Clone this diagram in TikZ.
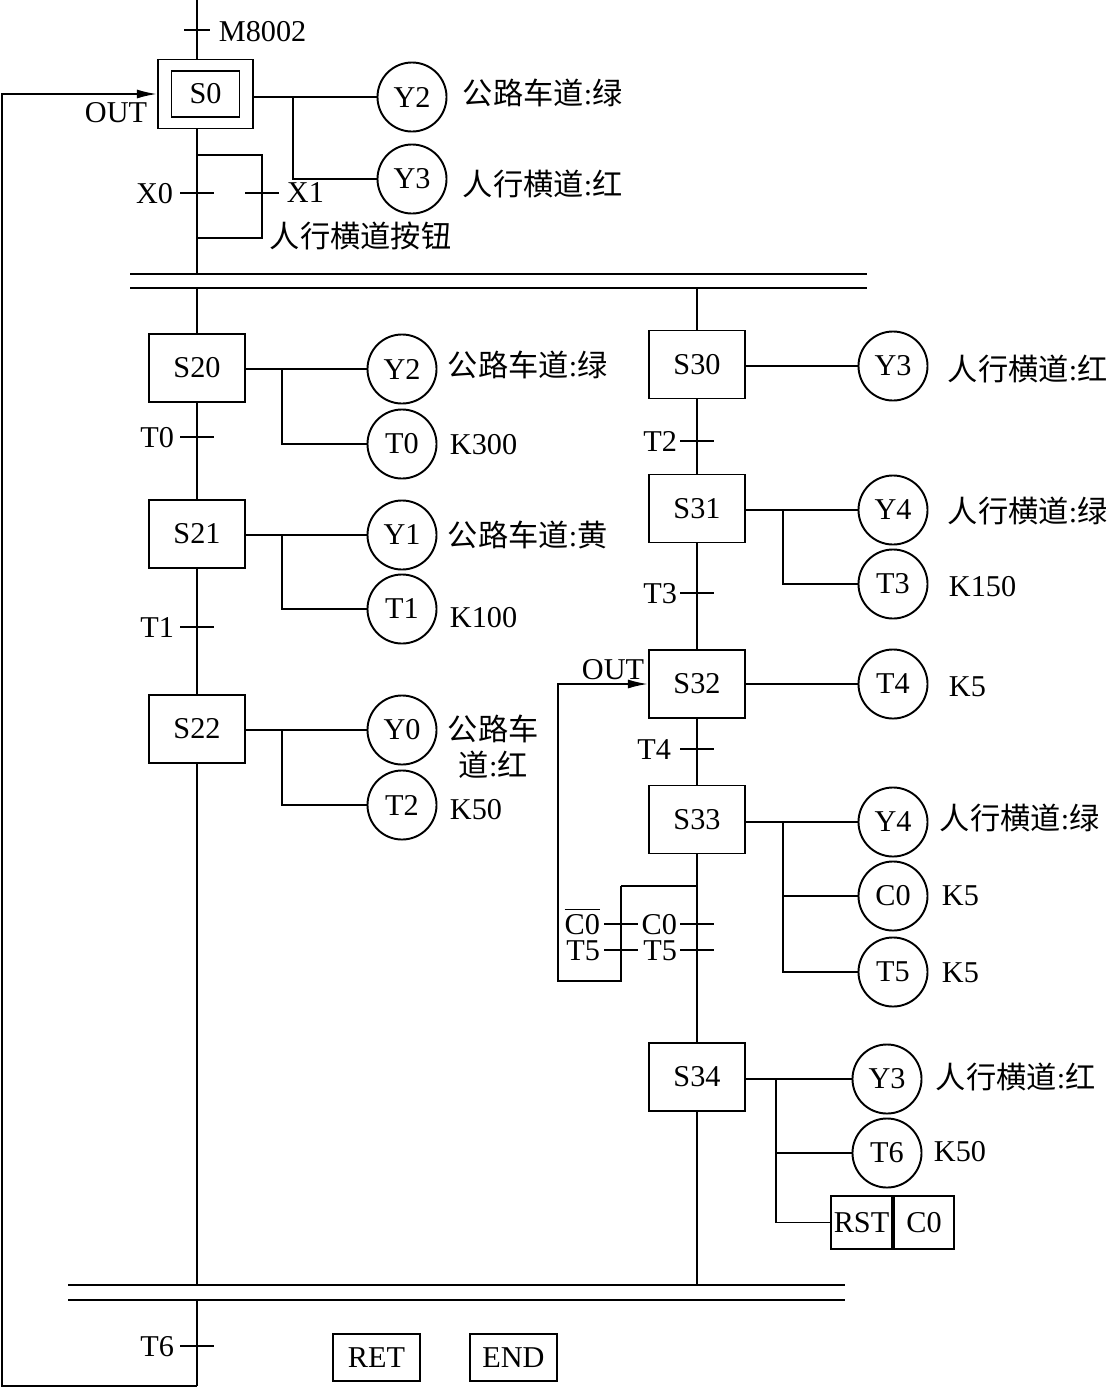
\documentclass[tikz,border=0pt]{standalone}
\usepackage{fontspec}
\setmainfont{Liberation Serif}
\newfontfamily\cjk{Noto Sans CJK SC}
\newcommand{\zh}[1]{{\cjk #1}}
\usetikzlibrary{positioning,arrows.meta}

\begin{document}
\begin{tikzpicture}[x = 0.01cm, y = -0.01cm, line width = 0.55pt,
  >={Latex[length=2mm,width=0.9mm]},
  every node/.style = {font=\fontsize{8.6}{10.3}\selectfont},
  stepbox/.style = {draw, minimum width=0.96cm, minimum height=0.68cm, inner sep=0pt},
  coil/.style = {draw, circle, minimum size=0.69cm, inner sep=0pt},
  cmdbox/.style = {draw, minimum height=0.47cm, inner sep=0pt},
  lbl/.style = {anchor=west, inner sep=0pt},
  tlbl/.style = {anchor=east, inner sep=0pt, text height=6pt, text depth=0pt}]

  \useasboundingbox (0,0) rectangle (1109,1387);

  % rails, jump branch and tick half width
  \def\lx{197}
  \def\rx{697}
  \def\lb{621}
  \def\tw{17}

  % initial step S0
  \node[draw, minimum width=0.95cm, minimum height=0.69cm] (s0) at (205.5,94) {};
  \node[draw, minimum width=0.68cm, minimum height=0.46cm, inner sep=0pt] (s0in) at (s0) {S0};
  \coordinate (top) at (\lx,0);
  \draw (top) -- (top |- s0.north);
  \draw (\lx-13,30) -- (\lx+13,30);
  \node[lbl] (m8002) at (218,32) {M8002};
  \node (out1) at (116,113) {OUT};

  % S0 outputs
  \node[coil] (s0-a) at (412,97) {Y2};
  \node[coil] (s0-b) at (412,179) {Y3};
  \draw (s0.east |- s0-a) -- (s0-a);
  \draw (293,97) |- (s0-b.west);
  \node[lbl] (s0-ta) at (462,93) {\zh{公路车道}:\zh{绿}};
  \node[lbl] (s0-tb) at (462,184) {\zh{人行横道}:\zh{红}};

  % parallel transitions X0 / X1
  \coordinate (pa) at (\lx,155);
  \coordinate (pb) at (\lx,238);
  \draw (top |- s0.south) -- (\lx,274);
  \draw (pa) -- ++(65,0) |- (pb);
  \draw (\lx-\tw,193) -- (\lx+\tw,193);
  \draw (262-\tw,193) -- (262+\tw,193);
  \node[tlbl] (x0) at (174,193) {X0};
  \node[lbl] (x1) at (286,193) {X1};
  \node[lbl] (btn) at (269,236) {\zh{人行横道按钮}};

  % divergence and convergence double bars
  \foreach \y in {274,288} \draw (130,\y) -- (867,\y);
  \foreach \y in {1285,1300} \draw (68,\y) -- (845,\y);
  \coordinate (bar1l) at (\lx,288);
  \coordinate (bar1r) at (\rx,288);
  \coordinate (bar2l) at (\lx,1285);
  \coordinate (bar2r) at (\rx,1285);

  % left sequence
  \node[stepbox] (s20) at (\lx,368) {S20};
  \node[stepbox] (s21) at (\lx,534) {S21};
  \node[stepbox] (s22) at (\lx,729) {S22};
  \draw (bar1l) -- (s20) -- (s21) -- (s22) -- (bar2l);

  % left outputs
  \foreach \s/\ya/\ca/\yb/\cb/\k/\ky in {s20/369/Y2/444/T0/K300/445,
    s21/535/Y1/609/T1/K100/618, s22/730/Y0/805/T2/K50/810}
  {
    \node[coil] (\s-a) at (402,\ya) {\ca};
    \node[coil] (\s-b) at (402,\yb) {\cb};
    \draw (\s.east |- \s-a) -- (\s-a);
    \draw (282,\ya) |- (\s-b.west);
    \node[lbl] (\s-k) at (449,\ky) {\k};
  }
  \node[lbl] (s20-t) at (447,365) {\zh{公路车道}:\zh{绿}};
  \node[lbl] (s21-t) at (447,535) {\zh{公路车道}:\zh{黄}};
  \node[lbl, align=center] (s22-t) at (447,747) {\zh{公路车}\\\zh{道}:\zh{红}};

  % left transitions
  \foreach \y/\t in {437/T0, 627/T1, 1346/T6}
  {
    \draw (\lx-\tw,\y) -- (\lx+\tw,\y);
    \node[tlbl] (tr-\t) at (175,\y) {\t};
  }

  % right sequence
  \node[stepbox] (s30) at (\rx,364.5) {S30};
  \node[stepbox] (s31) at (\rx,508.5) {S31};
  \node[stepbox] (s32) at (\rx,684) {S32};
  \node[stepbox] (s33) at (\rx,819.5) {S33};
  \node[stepbox] (s34) at (\rx,1077) {S34};
  \draw (bar1r) -- (s30) -- (s31) -- (s32) -- (s33) -- (s34) -- (bar2r);

  % right outputs
  \node[coil] (s30-a) at (893,366) {Y3};
  \draw (s30.east |- s30-a) -- (s30-a);
  \node[lbl] (s30-t) at (947,369) {\zh{人行横道}:\zh{红}};

  \node[coil] (s31-a) at (893,510) {Y4};
  \node[coil] (s31-b) at (893,584) {T3};
  \draw[thin] (s31.east |- s31-a) -- (s31-a);
  \draw (783,510) |- (s31-b.west);
  \node[lbl] (s31-t) at (947,511) {\zh{人行横道}:\zh{绿}};
  \node[lbl] (s31-k) at (948,587) {K150};

  \node[coil] (s32-a) at (893,684) {T4};
  \draw (s32.east |- s32-a) -- (s32-a);
  \node[lbl] (s32-k) at (948,687) {K5};

  \node[coil] (s33-a) at (893,822) {Y4};
  \node[coil] (s33-b) at (893,896) {C0};
  \node[coil] (s33-c) at (893,972) {T5};
  \draw (s33.east |- s33-a) -- (s33-a);
  \draw (783,822) |- (s33-c.west);
  \draw (783,896) -- (s33-b);
  \node[lbl] (s33-t) at (939,818) {\zh{人行横道}:\zh{绿}};
  \node[lbl] (s33-kb) at (941,896) {K5};
  \node[lbl] (s33-kc) at (941,973) {K5};

  \node[coil] (s34-a) at (887,1079) {Y3};
  \node[coil] (s34-b) at (887,1153) {T6};
  \node[cmdbox, minimum width=0.61cm, minimum height=0.53cm] (rst) at (861.5,1222.5) {RST};
  \node[cmdbox, minimum width=0.60cm, minimum height=0.53cm, right=0pt of rst] (rstc) {C0};
  \draw (s34.east |- s34-a) -- (s34-a);
  \draw (776,1079) |- (rst.west);
  \draw (776,1153) -- (s34-b);
  \node[lbl] (s34-t) at (935,1077) {\zh{人行横道}:\zh{红}};
  \node[lbl] (s34-k) at (933,1152) {K50};

  % right transitions
  \foreach \y/\t in {441/T2, 593/T3, 924/C0, 950/T5}
  {
    \draw (\rx-\tw,\y) -- (\rx+\tw,\y);
    \node[tlbl] (tr-\t) at (678,\y) {\t};
  }
  \draw[thin] (\rx-\tw,749) -- (\rx+\tw,749);
  \node[tlbl] (tr-T4) at (672,749) {T4};

  % jump back to S32
  \coordinate (jmp) at (\rx,886);
  \draw[thin] (jmp) -- (\lb,886);
  \draw[->] (\lb,886) -- (\lb,981) -- (558,981) |- (s32.west);
  \draw (\lb-\tw,924) -- (\lb+\tw,924);
  \draw (\lb-\tw,950) -- (\lb+\tw,950);
  \node[tlbl] (jb-C0) at (601,924) {\smash{$\overline{\mbox{C0}}$}};
  \node[tlbl] (jb-T5) at (601,950) {T5};
  \node (out2) at (613,670) {OUT};

  % end of program, return to S0
  \draw (\lx,1300) -- (\lx,1386);
  \draw[->] (\lx,1386) -- (2,1386) |- (s0.west);
  \node[cmdbox, minimum width=0.87cm] (ret) at (376.5,1357.5) {RET};
  \node[cmdbox, minimum width=0.87cm] (endb) at (513.5,1357.5) {END};

\end{tikzpicture}
\end{document}
